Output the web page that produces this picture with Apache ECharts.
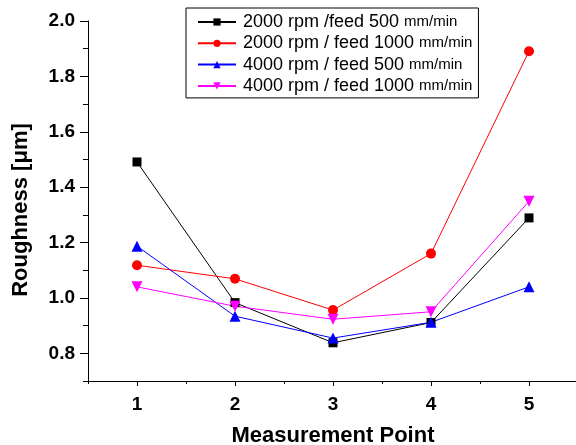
<!DOCTYPE html>
<html>
<head>
<meta charset="utf-8">
<script src="https://cdn.jsdelivr.net/npm/echarts@6/dist/echarts.min.js"></script>
<style>
  html, body { margin: 0; padding: 0; background: #fff; }
  #chart { width: 576px; height: 445px; }
</style>
</head>
<body>
<div id="chart"></div>
<script>
// 测量点与各工况下的粗糙度数据
const measurePoints = [1, 2, 3, 4, 5];
const rough2000f500 = [1.491, 0.983, 0.838, 0.911, 1.289];
const rough2000f1000 = [1.118, 1.069, 0.956, 1.160, 1.891];
const rough4000f500 = [1.187, 0.934, 0.855, 0.912, 1.040];
const rough4000f1000 = [1.040, 0.970, 0.923, 0.950, 1.349];

const seriesNames = [
    '2000 rpm /feed 500',
    '2000 rpm / feed 1000',
    '4000 rpm / feed 500',
    '4000 rpm / feed 1000'
];
const yTickLabels = [0.8, 1.0, 1.2, 1.4, 1.6, 1.8, 2.0];
const xTickLabels = [1, 2, 3, 4, 5];

const FONT = 'Liberation Sans, Arial, sans-serif';

function pairs(values) {
    return measurePoints.map((x, i) => [x, values[i]]);
}

function makeSeries(name, values, color, symbol, size, rotate) {
    return {
        name: name,
        type: 'line',
        data: pairs(values),
        xAxisIndex: 0,
        yAxisIndex: 0,
        symbol: symbol,
        symbolSize: size,
        symbolRotate: rotate || 0,
        showAllSymbol: true,
        lineStyle: { color: color, width: 1 },
        itemStyle: { color: color, borderWidth: 0 },
        emphasis: { disabled: true },
        animation: false
    };
}

let chart = echarts.init(document.getElementById('chart'), null, { renderer: 'canvas' });

const option = {
    backgroundColor: '#fff',
    animation: false,
    // 坐标区域位置固定，不让标题把绘图区挤小
    grid: { left: 88, top: 21, width: 490, height: 360, containLabel: false, outerBoundsMode: 'none' },
    legend: {
        left: 186,
        top: 8,
        orient: 'vertical',
        backgroundColor: '#fff',
        borderColor: '#000',
        borderWidth: 1,
        padding: [4, 6, 2, 11],
        itemWidth: 38,
        itemHeight: 9,
        itemGap: 1.3,
        selectedMode: false,
        textStyle: {
            fontFamily: FONT,
            fontSize: 18,
            color: '#000',
            lineHeight: 20,
            rich: {
                main: { fontSize: 18, fontFamily: FONT, color: '#000', padding: [0, 0, 0, 2] },
                unit: { fontSize: 15, fontFamily: FONT, color: '#000' }
            }
        },
        formatter: (name) => '{main|' + name + ' }{unit|mm/min}',
        data: seriesNames
    },
    xAxis: [
        {
            type: 'value',
            min: 0.5,
            max: 5.5,
            interval: 0.5,
            axisLine: { show: true, lineStyle: { color: '#000', width: 1 } },
            axisTick: { show: true, inside: false, length: 3, lineStyle: { color: '#000' } },
            axisLabel: {
                customValues: xTickLabels,
                margin: 14,
                fontFamily: FONT,
                fontWeight: 'bold',
                fontSize: 19,
                color: '#000'
            },
            splitLine: { show: false },
            name: 'Measurement Point',
            nameLocation: 'middle',
            nameGap: 44,
            nameTextStyle: { fontFamily: FONT, fontWeight: 'bold', fontSize: 22, color: '#000' }
        },
        {
            type: 'value',
            min: 0.5,
            max: 5.5,
            position: 'bottom',
            axisLine: { show: false },
            axisTick: { show: true, customValues: xTickLabels, length: 5, lineStyle: { color: '#000' } },
            axisLabel: { show: false },
            splitLine: { show: false }
        }
    ],
    yAxis: [
        {
            type: 'value',
            min: 0.7,
            max: 2.0,
            interval: 0.1,
            axisLine: { show: true, lineStyle: { color: '#000', width: 1 } },
            axisTick: { show: true, inside: false, length: 5, lineStyle: { color: '#000' } },
            axisLabel: {
                customValues: yTickLabels,
                formatter: (v) => v.toFixed(1),
                margin: 13,
                fontFamily: FONT,
                fontWeight: 'bold',
                fontSize: 19,
                color: '#000'
            },
            splitLine: { show: false },
            name: 'Roughness [\u03bcm]',
            nameLocation: 'middle',
            nameGap: 56,
            nameTextStyle: {
                fontFamily: FONT, fontWeight: 'bold', fontSize: 22, color: '#000',
                padding: [0, 18, 0, 0]
            }
        },
        {
            type: 'value',
            min: 0.7,
            max: 2.0,
            position: 'left',
            axisLine: { show: false },
            axisTick: { show: true, customValues: yTickLabels, length: 8, lineStyle: { color: '#000' } },
            axisLabel: { show: false },
            splitLine: { show: false }
        }
    ],
    series: [
        makeSeries(seriesNames[0], rough2000f500, '#000000', 'rect', 9),
        makeSeries(seriesNames[1], rough2000f1000, '#ff0000', 'circle', 10),
        makeSeries(seriesNames[2], rough4000f500, '#0000ff', 'triangle', 11),
        makeSeries(seriesNames[3], rough4000f1000, '#ff00ff', 'triangle', 11, 180)
    ]
};

chart.setOption(option);
</script>
</body>
</html>
